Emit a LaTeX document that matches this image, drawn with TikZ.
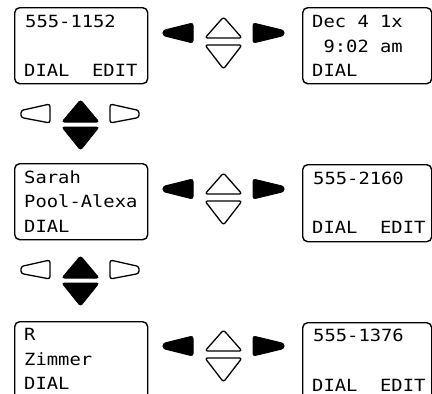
\documentclass[tikz,border=0pt]{standalone}
\usepackage{fontspec}
\newfontfamily\lcd[FakeStretch=1.12]{DejaVu Sans Mono}
\begin{document}
\begin{tikzpicture}[x=1pt,y=-1pt,
  screen/.style={draw=black,line width=1.4pt,rounded corners=5pt,anchor=north west,inner sep=0pt},
  lcdtext/.style={anchor=base west,inner sep=0pt,font=\lcd\fontsize{16.8}{18}\selectfont},
  solidarrow/.style={fill=black,draw=black,line width=1pt,rounded corners=2.5pt},
  hollowarrow/.style={draw=black,line width=1.3pt,rounded corners=2.5pt,line join=round}]
\useasboundingbox (0,0) rectangle (432,394);
\clip (0,0) rectangle (432,394);
% screens
\node[screen,minimum width=133pt,minimum height=76pt] (l1) at (14,7) {};
\node[screen,minimum width=129pt,minimum height=76pt] (r1) at (302,7) {};
\node[screen,minimum width=133pt,minimum height=76pt] (l2) at (14,163) {};
\node[screen,minimum width=129pt,minimum height=77pt] (r2) at (302,164) {};
\node[screen,minimum width=133pt,minimum height=90pt] (l3) at (14,321) {};
\node[screen,minimum width=129pt,minimum height=90pt] (r3) at (302,322) {};
% texts
\node[lcdtext] (t1a) at (25,27) {555-1152};
\node[lcdtext] (t1b) at (24,76) {DIAL~~EDIT};
\node[lcdtext] (t2a) at (312,27) {Dec 4 1x};
\node[lcdtext] (t2b) at (312,52) {~9:02 am};
\node[lcdtext] (t2c) at (312,76) {DIAL};
\node[lcdtext] (t3a) at (24,183) {Sarah};
\node[lcdtext] (t3b) at (24,207) {Pool-Alexa};
\node[lcdtext] (t3c) at (24,232) {DIAL};
\node[lcdtext] (t4a) at (313,184) {555-2160};
\node[lcdtext] (t4b) at (312,233) {DIAL~~EDIT};
\node[lcdtext] (t5a) at (24,340) {R};
\node[lcdtext] (t5b) at (24,365) {Zimmer};
\node[lcdtext] (t5c) at (24,389) {DIAL};
\node[lcdtext] (t6a) at (313,341) {555-1376};
\node[lcdtext] (t6b) at (312,391) {DIAL~~EDIT};
% horizontal navigation between screens
\foreach \T in {7,163,320}{
  \fill[solidarrow] (193,\T+16) -- (193,\T+36) -- (163,\T+28.5) -- (163,\T+23.5) -- cycle;
  \fill[solidarrow] (253,\T+16) -- (253,\T+36) -- (284,\T+28.5) -- (284,\T+23.5) -- cycle;
  \draw[hollowarrow] (223.5,\T+10) -- (242,\T+31) -- (205,\T+31) -- cycle;
  \draw[hollowarrow] (205,\T+38) -- (242,\T+38) -- (223.5,\T+62) -- cycle;
}
% vertical navigation
\foreach \T in {7,163}{
  \draw[hollowarrow] (50,\T+97) -- (50,\T+116) -- (21,\T+110.5) -- (21,\T+103.5) -- cycle;
  \draw[hollowarrow] (110,\T+97) -- (110,\T+116) -- (139,\T+110.5) -- (139,\T+103.5) -- cycle;
  \fill[solidarrow] (80.5,\T+93) -- (99,\T+115) -- (62,\T+115) -- cycle;
  \fill[solidarrow] (62,\T+120) -- (99,\T+120) -- (80.5,\T+143) -- cycle;
}
\end{tikzpicture}
\end{document}
